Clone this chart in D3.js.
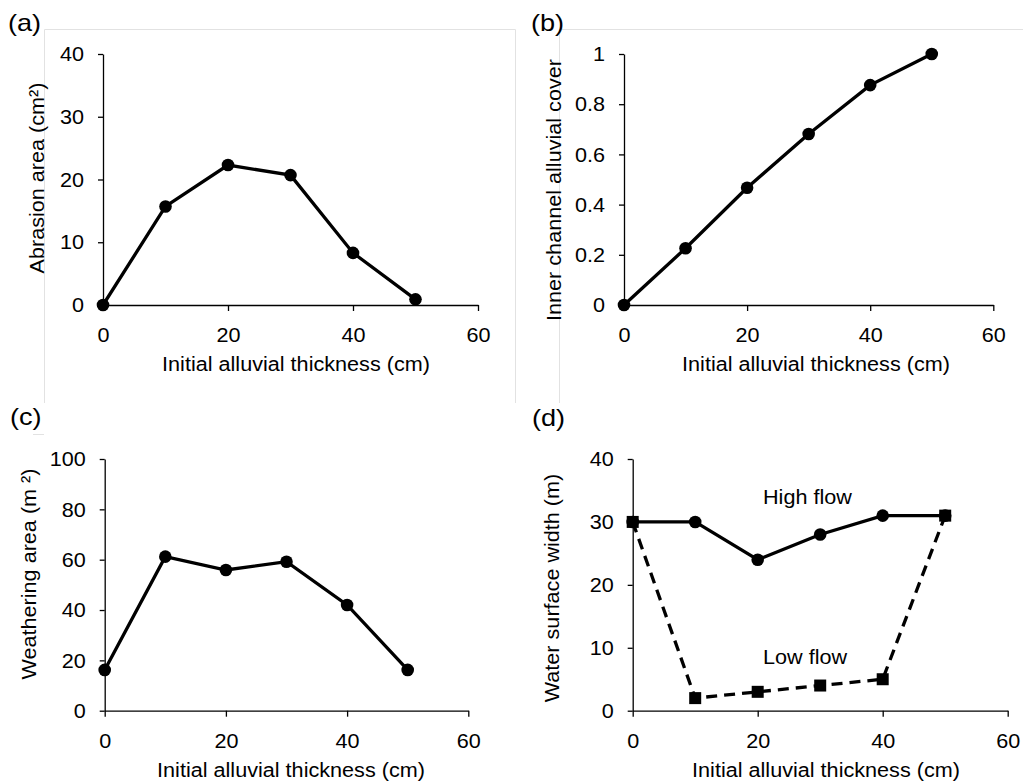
<!DOCTYPE html>
<html>
<head>
<meta charset="utf-8">
<script src="https://cdn.jsdelivr.net/npm/d3@7"></script>
<style>
  html, body { margin: 0; padding: 0; background: #fff; }
  svg { display: block; font-family: Arial, "Liberation Sans", sans-serif; }
</style>
</head>
<body>
<svg id="chart" width="1023" height="782"></svg>
<script>
// Initial alluvial thickness (cm) shared by all four panels
const thickness = [0, 10, 20, 30, 40, 50];
// (a) abrasion area, cm²
const abrasion = [0, 15.7, 22.3, 20.7, 8.3, 0.9];
// (b) inner channel alluvial cover fraction
const cover = [0, 0.226, 0.467, 0.681, 0.876, 1.0];
// (c) weathering area, m²
const weathering = [16.2, 61.2, 55.9, 59.2, 42, 16.2];
// (d) water surface width, m
const highFlow = [30, 30, 24, 28, 31, 31];
const lowFlow = [30, 2, 3, 4, 5, 31];

const xTicks = [0, 20, 40, 60];
const ticksA = [0, 10, 20, 30, 40];
const ticksB = [0, 0.2, 0.4, 0.6, 0.8, 1];
const ticksC = [0, 20, 40, 60, 80, 100];
const ticksD = [0, 10, 20, 30, 40];

const svg = d3.select("#chart");
const FS = 21;        // tick / title font size
const SX = 1.03;      // slight horizontal widening of glyphs

// faint frame lines of the original chart areas
const frame = svg.append("g").attr("fill", "none").attr("stroke", "#e2e2e2").attr("stroke-width", 1);
frame.append("path").attr("d", "M44.5,403 V29.5 H515.5 V403");
frame.append("path").attr("d", "M559.5,403 V29.5 H1023");
frame.append("path").attr("d", "M33,434.5 H44");

function label(g, x, y, str, opts = {}) {
  const size = opts.size || FS;
  const sx = opts.sx || SX;
  const rot = opts.rotate ? " rotate(-90)" : "";
  return g.append("text")
    .attr("transform", `translate(${x},${y})${rot} scale(${sx},1)`)
    .attr("text-anchor", opts.anchor || "middle")
    .attr("font-size", size)
    .attr("fill", "#000")
    .text(str);
}

function panel(cfg) {
  const g = svg.append("g");
  const x = d3.scaleLinear().domain([0, 60]).range([cfg.x0, cfg.x1]);
  const y = d3.scaleLinear().domain(cfg.yDomain).range([cfg.y0, cfg.y1]);

  const xAxis = g.append("g")
    .attr("transform", `translate(0,${cfg.y0})`)
    .call(d3.axisBottom(x).tickValues(xTicks).tickSize(6).tickSizeOuter(0).tickPadding(16));
  xAxis.selectAll("text").attr("transform", `scale(${SX},1)`);

  const yAxis = g.append("g")
    .attr("transform", `translate(${cfg.x0},0)`)
    .call(d3.axisLeft(y).tickValues(cfg.yTicks).tickSize(5).tickSizeOuter(0).tickPadding(14)
      .tickFormat(d => String(+d.toFixed(1))));
  yAxis.selectAll("text").attr("x", 0).attr("transform", `translate(-19,0) scale(${SX},1)`);

  [xAxis, yAxis].forEach(a => {
    a.selectAll("text").attr("font-size", FS).attr("font-family", null).attr("fill", "#000");
    a.selectAll("path, line").attr("stroke", "#000").attr("stroke-width", 1.3);
  });

  cfg.series.forEach(s => {
    const pts = thickness.map((t, i) => [x(t), y(s.values[i])]);
    g.append("path")
      .attr("d", d3.line()(pts))
      .attr("fill", "none")
      .attr("stroke", "#000")
      .attr("stroke-width", 3.3)
      .attr("stroke-dasharray", s.dashed ? "11,7" : null);
    if (s.marker === "square") {
      g.selectAll(null).data(pts).join("rect")
        .attr("x", d => d[0] - 6).attr("y", d => d[1] - 6)
        .attr("width", 12).attr("height", 12).attr("fill", "#000");
    } else {
      g.selectAll(null).data(pts).join("circle")
        .attr("cx", d => d[0]).attr("cy", d => d[1]).attr("r", 6.3).attr("fill", "#000");
    }
  });

  label(g, cfg.tag[0], cfg.tag[1], cfg.tagText, { size: 24, anchor: "start", sx: 1.13 });
  label(g, cfg.xTitle[0], cfg.xTitle[1], "Initial alluvial thickness (cm)");
  label(g, cfg.yTitle[0], cfg.yTitle[1], cfg.yTitleText, { rotate: true });
  return { g, x, y };
}

panel({
  x0: 103, x1: 478, y0: 305, y1: 54, yDomain: [0, 40], yTicks: ticksA,
  series: [{ values: abrasion }],
  tag: [8, 31], tagText: "(a)",
  xTitle: [296, 371], yTitle: [44, 178], yTitleText: "Abrasion area  (cm²)"
});

panel({
  x0: 624, x1: 993.3, y0: 305, y1: 54, yDomain: [0, 1], yTicks: ticksB,
  series: [{ values: cover }],
  tag: [531, 31], tagText: "(b)",
  xTitle: [816, 371], yTitle: [561, 190], yTitleText: "Inner channel alluvial cover"
});

panel({
  x0: 104.7, x1: 468.3, y0: 710.7, y1: 459, yDomain: [0, 100], yTicks: ticksC,
  series: [{ values: weathering }],
  tag: [10, 425], tagText: "(c)",
  xTitle: [291, 777], yTitle: [36, 574], yTitleText: "Weathering area  (m ²)"
});

const d = panel({
  x0: 632.7, x1: 1007.7, y0: 710.7, y1: 459, yDomain: [0, 40], yTicks: ticksD,
  series: [{ values: highFlow }, { values: lowFlow, dashed: true, marker: "square" }],
  tag: [532, 426], tagText: "(d)",
  xTitle: [826, 777], yTitle: [559, 588], yTitleText: "Water surface width (m)"
});

label(d.g, 763, 504, "High flow", { anchor: "start" });
label(d.g, 763, 664, "Low flow", { anchor: "start" });
</script>
</body>
</html>
